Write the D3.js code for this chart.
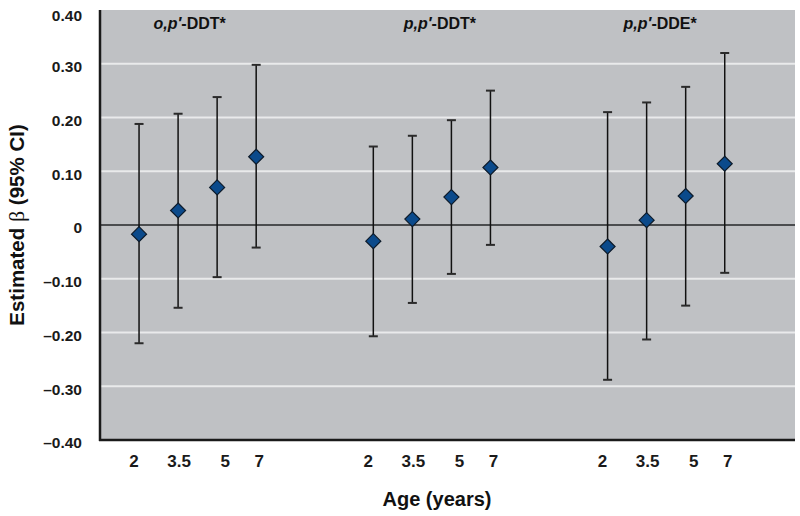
<!DOCTYPE html>
<html><head><meta charset="utf-8">
<script src="https://cdn.jsdelivr.net/npm/d3@7"></script>
<style>
body{margin:0;background:#fff;}
text{font-family:"Liberation Sans",Arial,sans-serif;font-weight:bold;}
</style></head>
<body><svg id="c" width="800" height="516"></svg>
<script>
const groupsPre = ["o,p′", "p,p′", "p,p′"];
const groupsPost = ["-DDT*", "-DDT*", "-DDE*"];
const ages = ["2", "3.5", "5", "7"];
const estimates = [
  [-0.017, 0.027, 0.070, 0.127],
  [-0.030, 0.011, 0.052, 0.107],
  [-0.040, 0.009, 0.054, 0.114]
];
const lower = [
  [-0.220, -0.154, -0.097, -0.042],
  [-0.207, -0.145, -0.091, -0.037],
  [-0.288, -0.213, -0.150, -0.089]
];
const upper = [
  [0.188, 0.207, 0.238, 0.298],
  [0.146, 0.166, 0.195, 0.250],
  [0.210, 0.228, 0.257, 0.320]
];
const yTicks = [0.4, 0.3, 0.2, 0.1, 0, -0.1, -0.2, -0.3, -0.4];

const svg = d3.select("#c");
const L = 100, R = 795, T = 10, B = 440;
const x = d3.scaleLinear().domain([-1, 16.8]).range([L, R]);
const y = d3.scaleLinear().domain([-0.4, 0.4]).range([B, T]);

const pts = [];
estimates.forEach((row, g) => row.forEach((v, i) => {
  pts.push({g, i, idx: g * 6 + i, v, lo: lower[g][i], hi: upper[g][i]});
}));

// background
svg.append("rect").attr("x", L).attr("y", T).attr("width", R - L).attr("height", B - T).attr("fill", "#bfc1c4");

// gridlines
svg.append("g").selectAll("line").data(yTicks.filter(t => t !== 0 && Math.abs(t) < 0.4))
  .join("line").attr("x1", L).attr("x2", R).attr("y1", d => y(d)).attr("y2", d => y(d))
  .attr("stroke", "#e9eaeb").attr("stroke-width", 2);
// zero line
svg.append("line").attr("x1", L).attr("x2", R).attr("y1", y(0)).attr("y2", y(0))
  .attr("stroke", "#4b4d4f").attr("stroke-width", 2);

// axes
const yAxis = d3.axisLeft(y).tickValues(yTicks).tickSize(0).tickPadding(18)
  .tickFormat(d => d === 0 ? "0" : (d < 0 ? "–" : "") + Math.abs(d).toFixed(2));
const ya = svg.append("g").attr("transform", `translate(${L},0)`).call(yAxis);
ya.select(".domain").remove();
ya.selectAll("text").attr("font-size", 15.5).attr("fill", "#1a1a1a").attr("dy", "0.5em")
  .style("font-family", "'Liberation Sans',Arial,sans-serif").style("font-weight", "bold");
ya.selectAll("text").filter(d => d === 0.4).attr("dy", "0.68em");

svg.append("line").attr("x1", L).attr("x2", L).attr("y1", T).attr("y2", B + 1).attr("stroke", "#1a1a1a").attr("stroke-width", 2.5);
svg.append("line").attr("x1", L - 1).attr("x2", R).attr("y1", B).attr("y2", B).attr("stroke", "#1a1a1a").attr("stroke-width", 2.5);

// x labels
const dxs = [-5, 1, 8, 3];
svg.append("g").selectAll("text").data(pts).join("text")
  .attr("x", d => x(d.idx) + dxs[d.i]).attr("y", 467).attr("text-anchor", "middle")
  .attr("font-size", 17).attr("fill", "#1a1a1a").text(d => ages[d.i]);

// error bars
const eb = svg.append("g");
eb.selectAll("line.v").data(pts).join("line").attr("class", "v")
  .attr("x1", d => x(d.idx)).attr("x2", d => x(d.idx)).attr("y1", d => y(d.lo)).attr("y2", d => y(d.hi))
  .attr("stroke", "#111").attr("stroke-width", 1.5);
eb.selectAll("line.hi").data(pts).join("line").attr("class", "hi")
  .attr("x1", d => x(d.idx) - 4.5).attr("x2", d => x(d.idx) + 4.5).attr("y1", d => y(d.hi)).attr("y2", d => y(d.hi))
  .attr("stroke", "#2a2a2a").attr("stroke-width", 2);
eb.selectAll("line.lo").data(pts).join("line").attr("class", "lo")
  .attr("x1", d => x(d.idx) - 4.5).attr("x2", d => x(d.idx) + 4.5).attr("y1", d => y(d.lo)).attr("y2", d => y(d.lo))
  .attr("stroke", "#2a2a2a").attr("stroke-width", 2);

// diamonds
const s = 7.5;
svg.append("g").selectAll("path").data(pts).join("path")
  .attr("d", d => `M${x(d.idx)},${y(d.v) - s}L${x(d.idx) + s},${y(d.v)}L${x(d.idx)},${y(d.v) + s}L${x(d.idx) - s},${y(d.v)}Z`)
  .attr("fill", "#0b4a8b").attr("stroke", "#0d1b2a").attr("stroke-width", 1.2);

// group titles
const gdx = [-8, 8, -6];
const gt = svg.append("g").selectAll("text").data(groupsPre).join("text")
  .attr("x", (d, g) => x(g * 6 + 1.5) + gdx[g]).attr("y", 29).attr("text-anchor", "middle")
  .attr("font-size", 16).attr("fill", "#111");
gt.append("tspan").attr("font-style", "italic").text(d => d);
gt.append("tspan").text((d, g) => groupsPost[g]);

// axis titles
svg.append("text").attr("x", 437).attr("y", 506).attr("text-anchor", "middle")
  .attr("font-size", 20).attr("fill", "#111").text("Age (years)");
const yt = svg.append("text").attr("transform", "translate(24,225) rotate(-90)").attr("text-anchor", "middle")
  .attr("font-size", 20.5).attr("fill", "#111");
yt.append("tspan").text("Estimated ");
yt.append("tspan").attr("font-weight", "normal").style("font-weight", "normal")
  .style("font-family", "'Liberation Serif',serif").attr("font-size", 22).text("β");
yt.append("tspan").text(" (95% CI)");
</script></body></html>
